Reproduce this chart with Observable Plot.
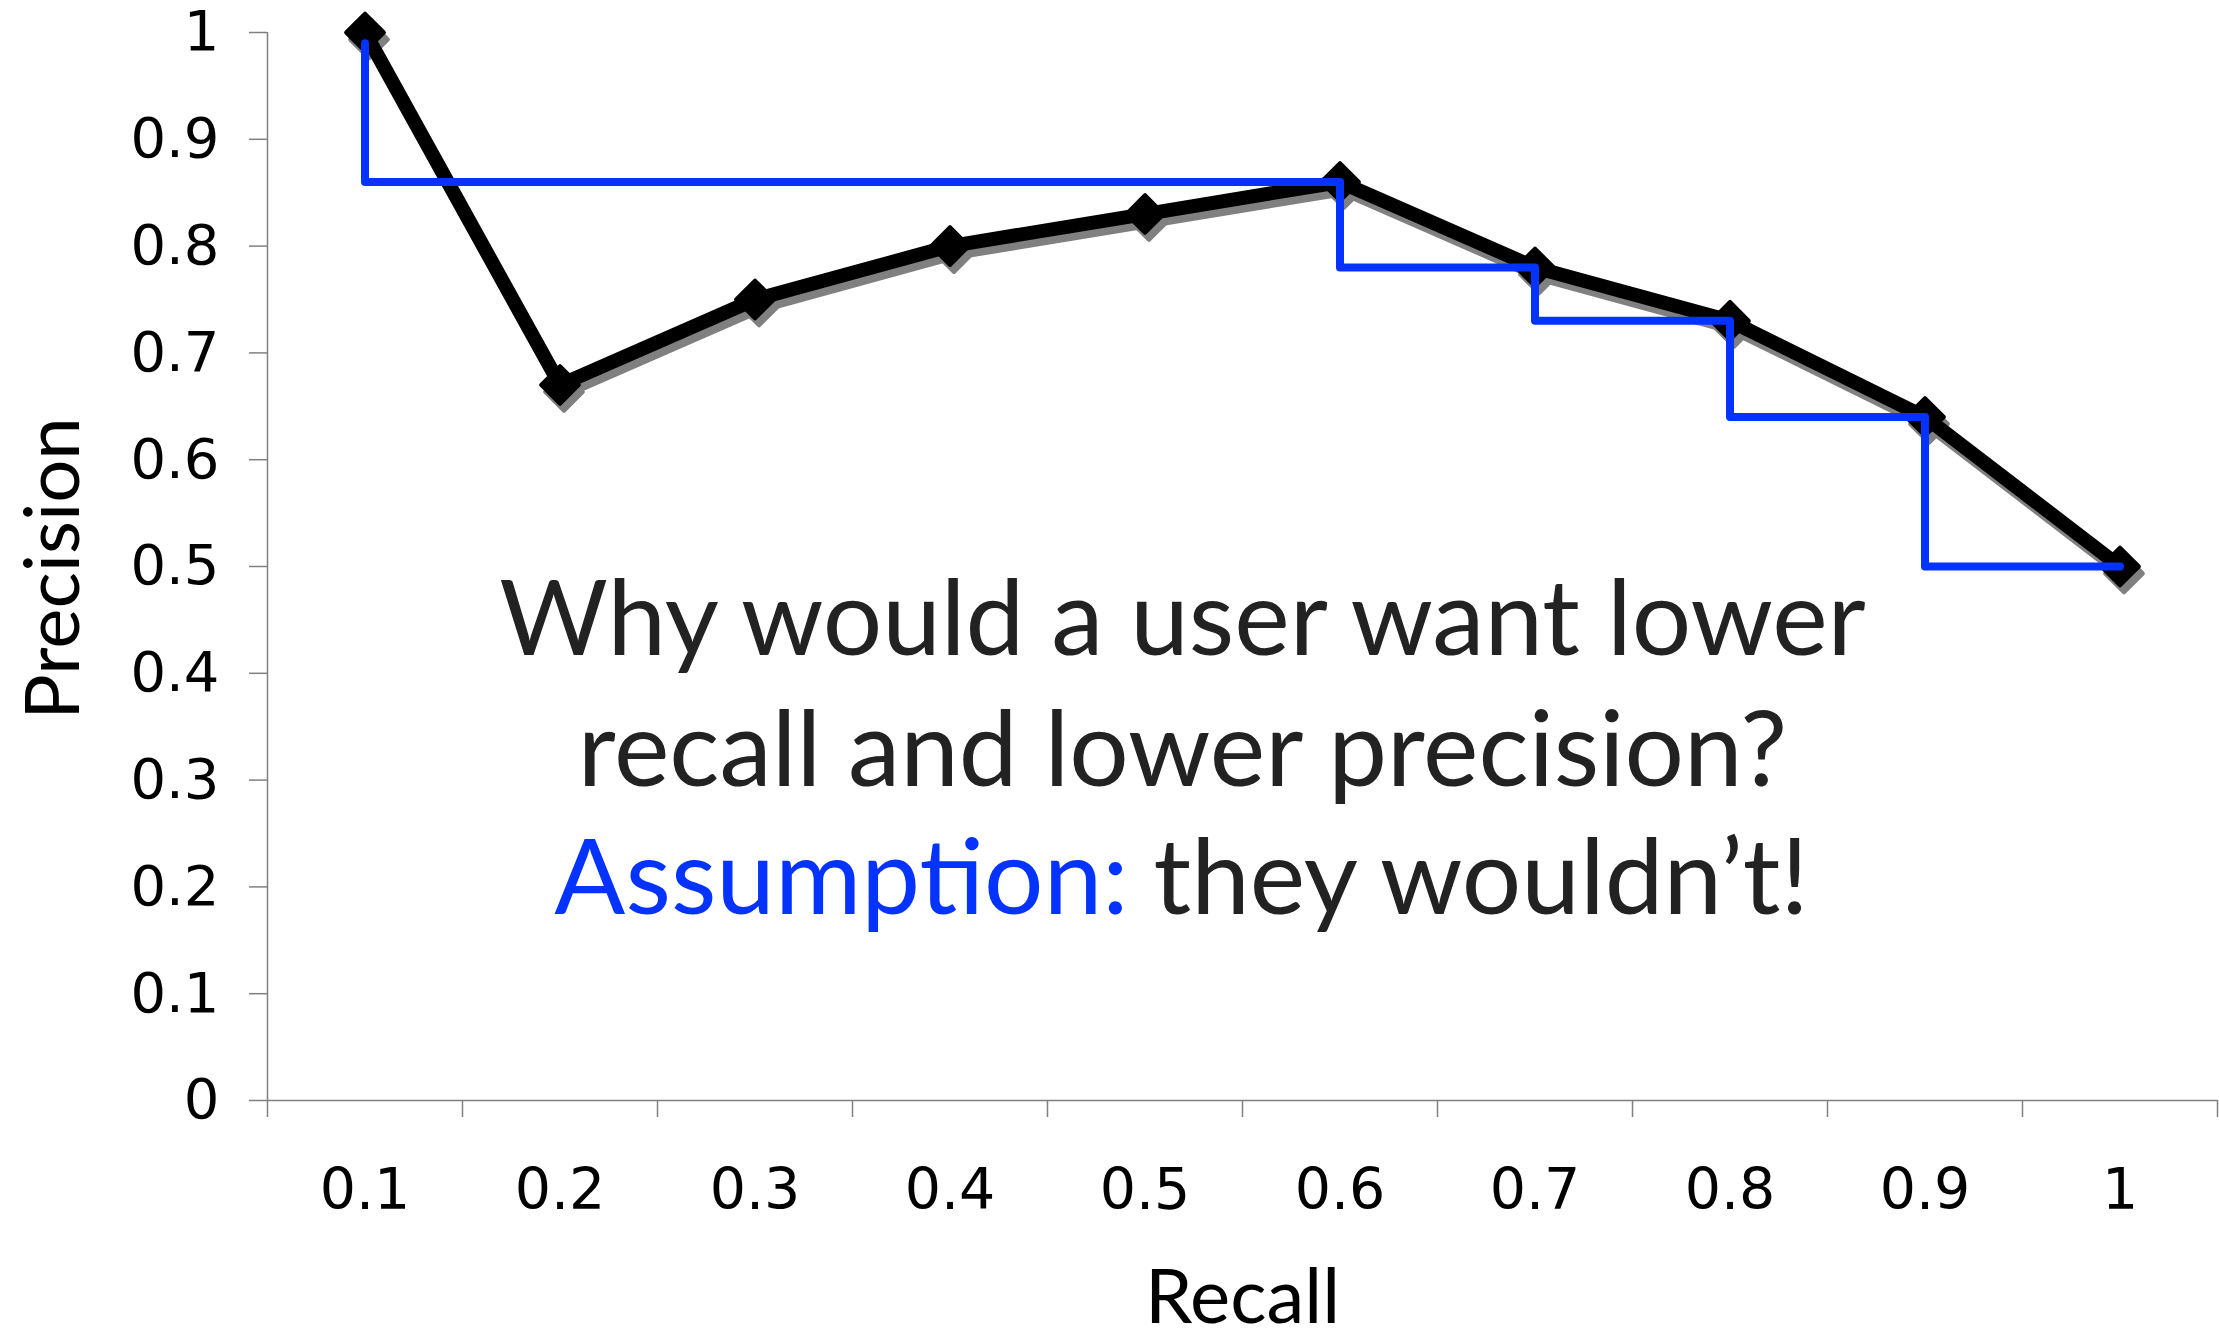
<!DOCTYPE html>
<html>
<head>
<meta charset="utf-8">
<script src="https://cdn.jsdelivr.net/npm/d3@7"></script>
<script src="https://cdn.jsdelivr.net/npm/@observablehq/plot@0.6"></script>
<style>
  html, body { margin: 0; padding: 0; background: #fff; }
  #chart svg { display: block; }
</style>
</head>
<body>
<div id="chart"></div>
<script>
// ---- data ----
const recall = [0.1, 0.2, 0.3, 0.4, 0.5, 0.6, 0.7, 0.8, 0.9, 1.0];
const precision = [1.0, 0.67, 0.75, 0.80, 0.83, 0.86, 0.78, 0.73, 0.64, 0.50];
// interpolated (step) precision path
const stepRecall = [0.1, 0.1, 0.6, 0.6, 0.7, 0.7, 0.8, 0.8, 0.9, 0.9, 1.0];
const stepPrecision = [0.99, 0.86, 0.86, 0.78, 0.78, 0.73, 0.73, 0.64, 0.64, 0.50, 0.50];
const xTickLabels = [0.1, 0.2, 0.3, 0.4, 0.5, 0.6, 0.7, 0.8, 0.9, 1.0];
const xBoundaries = [0.05, 0.15, 0.25, 0.35, 0.45, 0.55, 0.65, 0.75, 0.85, 0.95, 1.05];
const yTicks = [0, 0.1, 0.2, 0.3, 0.4, 0.5, 0.6, 0.7, 0.8, 0.9, 1.0];
const xLabel = "Recall";
const yLabel = "Precision";
const noteLines = ["Why would a user want lower", "recall and lower precision?"];
const noteBlue = "Assumption:";
const noteEnd = "they wouldn\u2019t!";

const pts = recall.map((r, i) => ({recall: r, precision: precision[i]}));
const steps = stepRecall.map((r, i) => ({recall: r, precision: stepPrecision[i]}));
const fmt = d => String(+(+d).toFixed(1));

const axisGray = "#808080";
const noteFont = "Lato, 'Open Sans', sans-serif";
const noteSize = 105;

const chart = Plot.plot({
  width: 2219,
  height: 1337,
  marginLeft: 267,
  marginRight: 2,
  marginTop: 32,
  marginBottom: 237,
  style: {fontFamily: "'DejaVu Sans', Verdana, sans-serif", background: "#fff", color: "#000", overflow: "visible"},
  x: {domain: [xBoundaries[0], xBoundaries[xBoundaries.length - 1]], axis: null},
  y: {domain: [0, 1], axis: null},
  marks: [
    // axis lines
    Plot.ruleX([xBoundaries[0]], {stroke: axisGray, strokeWidth: 1.5}),
    Plot.ruleY([0], {stroke: axisGray, strokeWidth: 1.5}),
    // y axis
    Plot.axisY(yTicks, {tickSize: 18, tickPadding: 30, tickFormat: fmt, fontSize: 56, stroke: axisGray, strokeWidth: 1.5, fill: "#000", label: null}),
    // x axis boundary ticks
    Plot.axisX(xBoundaries, {tickSize: 17, tickFormat: () => "", stroke: axisGray, strokeWidth: 1.5, label: null}),
    // x axis labels centered in categories
    Plot.axisX(xTickLabels, {tickSize: 0, tickPadding: 68, tickFormat: fmt, fontSize: 57, fill: "#000", label: null}),
    // shadow
    Plot.line(pts, {x: "recall", y: "precision", stroke: "#808080", strokeWidth: 14, strokeLinejoin: "round", dx: 4, dy: 7}),
    Plot.dot(pts, {x: "recall", y: "precision", symbol: "diamond2", r: 17, fill: "#808080", stroke: "#808080", strokeWidth: 4, strokeLinejoin: "round", dx: 4, dy: 7}),
    // main line
    Plot.line(pts, {x: "recall", y: "precision", stroke: "#000", strokeWidth: 14, strokeLinejoin: "round"}),
    Plot.dot(pts, {x: "recall", y: "precision", symbol: "diamond2", r: 17, fill: "#000", stroke: "#000", strokeWidth: 4, strokeLinejoin: "round"}),
    // interpolated step line
    Plot.line(steps, {x: "recall", y: "precision", stroke: "#0433ff", strokeWidth: 8}),
    // axis titles
    Plot.text([yLabel], {frameAnchor: "left", textAnchor: "middle", rotate: -90, dx: -189, dy: 2, lineAnchor: "bottom", text: d => d, fontSize: 76, fontFamily: noteFont, fill: "#000"}),
    Plot.text([xLabel], {frameAnchor: "bottom", textAnchor: "middle", dy: 222, lineAnchor: "bottom", text: d => d, fontSize: 76, fontFamily: noteFont, fill: "#000"}),
    // annotation
    Plot.text([noteLines[0]], {frameAnchor: "middle", dx: -60, dy: 88, lineAnchor: "bottom", text: d => d, fontSize: noteSize, fontFamily: noteFont, fill: "#222"}),
    Plot.text([noteLines[1]], {frameAnchor: "middle", dx: -60, dy: 219, lineAnchor: "bottom", text: d => d, fontSize: noteSize, fontFamily: noteFont, fill: "#222"}),
    Plot.text([noteBlue], {frameAnchor: "middle", dx: -114, dy: 347, lineAnchor: "bottom", textAnchor: "end", text: d => d, fontSize: noteSize, fontFamily: noteFont, fill: "#0433ff"}),
    Plot.text([noteEnd], {frameAnchor: "middle", dx: -89, dy: 347, lineAnchor: "bottom", textAnchor: "start", text: d => d, fontSize: noteSize, fontFamily: noteFont, fill: "#222"})
  ]
});
document.getElementById("chart").appendChild(chart);
</script>
</body>
</html>
